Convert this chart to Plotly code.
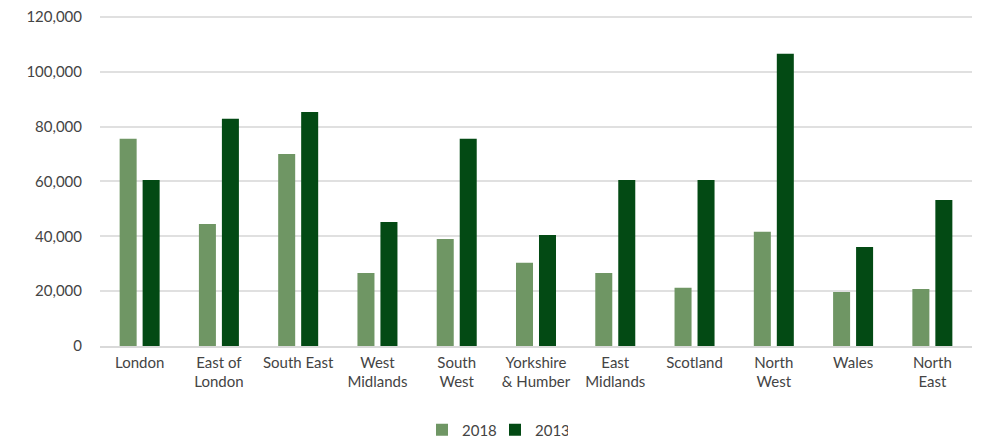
import plotly.graph_objects as go

categories = ["London", "East of<br>London", "South East", "West<br>Midlands", "South<br>West",
              "Yorkshire<br>& Humber", "East<br>Midlands", "Scotland", "North<br>West", "Wales", "North<br>East"]
values_2018 = [75500, 44500, 70000, 26600, 39000, 30300, 26600, 21200, 41600, 19700, 20800]
values_2013 = [60500, 82800, 85300, 45200, 75500, 40500, 60500, 60500, 106500, 36100, 53200]
tick_vals = [0, 20000, 40000, 60000, 80000, 100000, 120000]

FONT = "Lato, 'Open Sans', sans-serif"

fig = go.Figure()
fig.add_trace(go.Bar(name="2018", x=categories, y=values_2018, marker_color="#6f9664",
                     marker_line_width=0))
fig.add_trace(go.Bar(name="2013", x=categories, y=values_2013, marker_color="#034a14",
                     marker_line_width=0))

fig.update_layout(
    width=974, height=433,
    margin=dict(l=92, r=10, t=6, b=95, autoexpand=False),
    barmode="group", bargap=0.42, bargroupgap=0.26,
    plot_bgcolor="white", paper_bgcolor="white",
    font=dict(family=FONT, size=15, color="#444444"),
    showlegend=True,
    legend=dict(orientation="h", xref="container", x=0.5, xanchor="center",
                y=-0.253, yanchor="middle", entrywidth=28, entrywidthmode="pixels",
                font=dict(size=15, color="#444444"), itemwidth=30, traceorder="normal"),
    xaxis=dict(showgrid=False, showline=True, linecolor="#d9d9d9", linewidth=1.5,
               ticks="", tickfont=dict(size=15), automargin=False, ticklabelstandoff=2),
    yaxis=dict(range=[0, 121000], tickvals=tick_vals, tickformat=",d",
               showgrid=True, gridcolor="#e0e0e0", gridwidth=1.5,
               zeroline=False, showline=False, ticks="", ticklen=0,
               tickfont=dict(size=15), automargin=False, ticklabelstandoff=17,
               ticklabeloverflow="allow"),
)
fig.write_html("out.html")
